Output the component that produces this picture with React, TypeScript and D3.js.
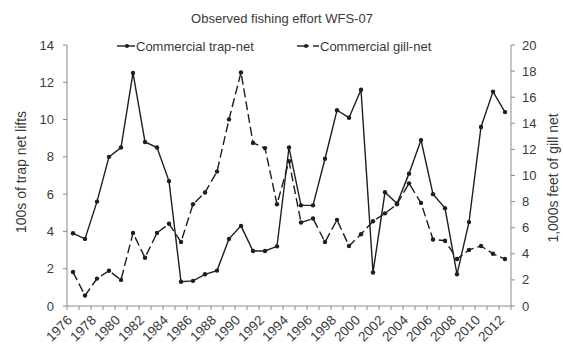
import React from "react";
import * as d3 from "d3";

const years: number[] = d3.range(1976, 2013);
const trapNet: number[] = [3.9, 3.6, 5.6, 8.0, 8.5, 12.5, 8.8, 8.5, 6.7, 1.3, 1.35, 1.7, 1.9, 3.6, 4.3, 2.95, 2.95, 3.2, 8.5, 5.4, 5.4, 7.9, 10.5, 10.1, 11.6, 1.8, 6.1, 5.5, 7.1, 8.9, 6.0, 5.25, 1.7, 4.5, 9.6, 11.5, 10.4];
const gillNet: number[] = [2.6, 0.8, 2.1, 2.7, 2.0, 5.6, 3.7, 5.6, 6.3, 4.9, 7.8, 8.7, 10.3, 14.3, 17.9, 12.5, 12.1, 7.8, 11.1, 6.4, 6.7, 4.9, 6.6, 4.6, 5.5, 6.5, 7.1, 7.8, 9.4, 7.9, 5.1, 5.0, 3.6, 4.3, 4.6, 4.0, 3.6];
const leftTicks: number[] = [0, 2, 4, 6, 8, 10, 12, 14];
const rightTicks: number[] = [0, 2, 4, 6, 8, 10, 12, 14, 16, 18, 20];
const title = "Observed fishing effort WFS-07";
const seriesNames = ["Commercial trap-net", "Commercial gill-net"];
const leftLabel = "100s of trap net lifts";
const rightLabel = "1,000s feet of gill net";

export default function App() {
  const W = 563, H = 356;
  const left = 67, right = 511, top = 45, bottom = 306;
  const font = "Liberation Sans, Arial, sans-serif";
  const x = d3.scaleBand<number>().domain(years).range([left, right]).padding(0);
  const yL = d3.scaleLinear().domain([0, 14]).range([bottom, top]);
  const yR = d3.scaleLinear().domain([0, 20]).range([bottom, top]);
  const cx = (y: number) => (x(y) as number) + x.bandwidth() / 2;
  const lineL = d3.line<number>().x((_, i) => cx(years[i])).y((d) => yL(d));
  const lineR = d3.line<number>().x((_, i) => cx(years[i])).y((d) => yR(d));
  const axisColor = "#8a8a8a";
  const textColor = "#3a3a3a";
  const lineColor = "#1e1e1e";
  const boundaries = d3.range(years.length + 1).map((i) => left + i * x.bandwidth());
  return (
    <svg width={W} height={H} style={{ position: "absolute", left: 0, top: 0, background: "#fff" }} fontFamily={font}>
      <rect x={0} y={0} width={W} height={H} fill="#fff" />
      <text x={282} y={23} textAnchor="middle" fontSize={13} fill={textColor}>{title}</text>
      {/* legend */}
      <g fontSize={13} fill={textColor}>
        <line x1={117} x2={135} y1={46} y2={46} stroke={lineColor} strokeWidth={1.4} />
        <circle cx={127} cy={46} r={2} fill={lineColor} />
        <text x={136} y={50.5}>{seriesNames[0]}</text>
        <line x1={297} x2={309} y1={46} y2={46} stroke={lineColor} strokeWidth={1.4} />
        <line x1={313} x2={319} y1={46} y2={46} stroke={lineColor} strokeWidth={1.4} />
        <circle cx={306} cy={46} r={2} fill={lineColor} />
        <text x={320} y={50.5}>{seriesNames[1]}</text>
      </g>
      {/* axes */}
      <line x1={left} x2={left} y1={top} y2={bottom} stroke={axisColor} />
      <line x1={right} x2={right} y1={top} y2={bottom} stroke={axisColor} />
      <line x1={left} x2={right} y1={bottom} y2={bottom} stroke={axisColor} />
      {leftTicks.map((t) => (
        <g key={"l" + t}>
          <line x1={left - 4} x2={left} y1={yL(t)} y2={yL(t)} stroke={axisColor} />
          <text x={left - 13} y={yL(t) + 4.5} textAnchor="end" fontSize={13} fill={textColor}>{t}</text>
        </g>
      ))}
      {rightTicks.map((t) => (
        <g key={"r" + t}>
          <line x1={right} x2={right + 4} y1={yR(t)} y2={yR(t)} stroke={axisColor} />
          <text x={right + 11} y={yR(t) + 4.5} textAnchor="start" fontSize={13} fill={textColor}>{t}</text>
        </g>
      ))}
      {boundaries.map((b, i) => (
        <line key={"b" + i} x1={b} x2={b} y1={bottom} y2={bottom + 4} stroke={axisColor} />
      ))}
      {years.filter((y) => (y - 1976) % 2 === 0).map((y) => (
        <text key={"x" + y} transform={`translate(${cx(y)},${bottom + 15}) rotate(-45)`} textAnchor="end" fontSize={13.5} fill={textColor}>{y}</text>
      ))}
      <text transform={`translate(26,${172}) rotate(-90)`} textAnchor="middle" fontSize={14} fill={textColor}>{leftLabel}</text>
      <text transform={`translate(558,${178}) rotate(-90)`} textAnchor="middle" fontSize={14} fill={textColor}>{rightLabel}</text>
      {/* series */}
      <path d={lineR(gillNet) || ""} fill="none" stroke={lineColor} strokeWidth={1.4} strokeDasharray="9,4" />
      {gillNet.map((v, i) => (
        <circle key={"g" + i} cx={cx(years[i])} cy={yR(v)} r={2.2} fill={lineColor} />
      ))}
      <path d={lineL(trapNet) || ""} fill="none" stroke={lineColor} strokeWidth={1.4} />
      {trapNet.map((v, i) => (
        <circle key={"t" + i} cx={cx(years[i])} cy={yL(v)} r={2.2} fill={lineColor} />
      ))}
    </svg>
  );
}
